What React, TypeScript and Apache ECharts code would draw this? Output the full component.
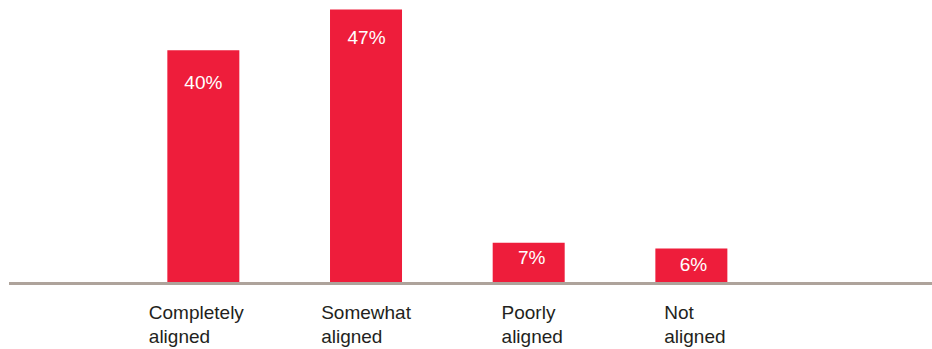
import React, { useEffect, useRef } from "react";
import * as echarts from "echarts";

const categories = ["Completely\naligned", "Somewhat\naligned", "Poorly\naligned", "Not\naligned"];
const values = [40, 47, 7, 6];
const valueLabels = ["40%", "47%", "7%", "6%"];

const labelDistance = [22.5, 18.5, 5, 6.5];
const labelOffsetX = [0, 0.5, 3, 2];
const catPadding = [[0, 14, 0, 0], [0, 0, 0, 0], [0, 0, 0, 7], [0, 0, 0, 7]];

export default function App() {
  const ref = useRef<HTMLDivElement>(null);
  useEffect(() => {
    if (!ref.current) return;
    const chart = echarts.init(ref.current, undefined, { renderer: "svg" });
    const font = "'Liberation Sans', Arial, Helvetica, sans-serif";
    chart.setOption({
      animation: false,
      grid: { left: 122, right: 159.3, top: 9.5, bottom: 65.5, containLabel: false },
      xAxis: {
        type: "category",
        data: categories.map((c, i) => ({
          value: c,
          textStyle: { padding: catPadding[i] },
        })),
        axisLine: { show: false },
        axisTick: { show: false },
        axisLabel: {
          margin: 17,
          interval: 0,
          color: "#231F20",
          fontFamily: font,
          fontSize: 19,
          lineHeight: 24,
          formatter: (v: string) =>
            v.split("\n").map((s) => `{a|${s}}`).join("\n"),
          rich: {
            a: {
              align: "left",
              color: "#231F20",
              fontFamily: font,
              fontSize: 19,
              lineHeight: 24,
            },
          },
        },
      },
      yAxis: {
        type: "value",
        min: 0,
        max: 47,
        show: false,
        splitLine: { show: false },
      },
      series: [
        {
          type: "bar",
          barWidth: 72,
          itemStyle: { color: "#EE1D3B" },
          data: values.map((v, i) => ({
            value: v,
            label: {
              show: true,
              position: "insideTop",
              distance: labelDistance[i],
              offset: [labelOffsetX[i], 0],
              formatter: valueLabels[i],
              color: "#ffffff",
              fontFamily: font,
              fontSize: 19,
            },
          })),
        },
      ],
      graphic: [
        {
          type: "line",
          shape: { x1: 9, y1: 283.5, x2: 932, y2: 283.5 },
          style: { stroke: "#AEA39B", lineWidth: 3 },
          z: 10,
        },
      ],
    });
    return () => chart.dispose();
  }, []);
  return <div ref={ref} style={{ width: 932, height: 349, position: "absolute", left: 0, top: 0 }} />;
}
